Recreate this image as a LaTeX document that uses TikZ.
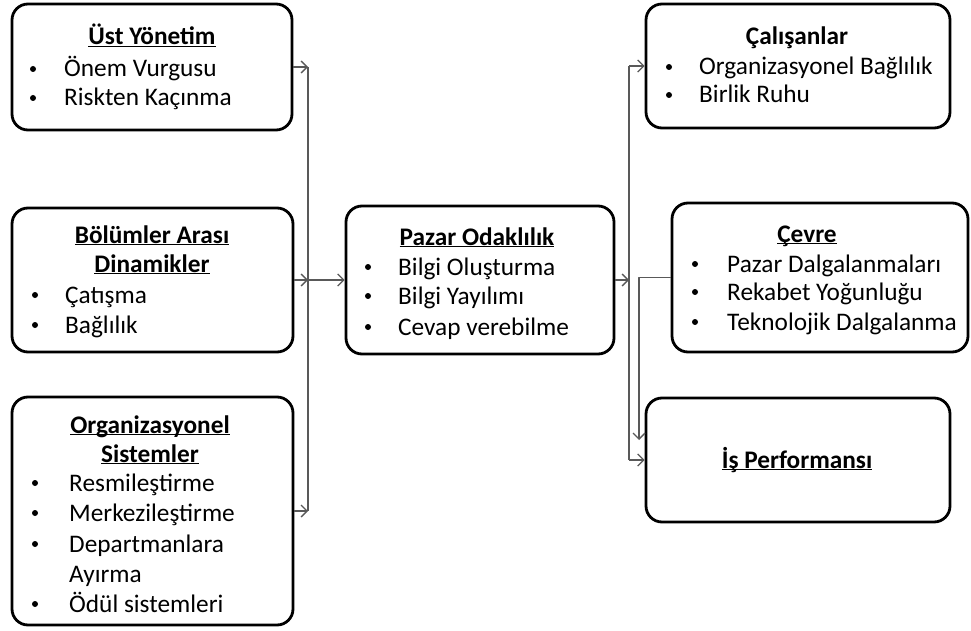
\documentclass[tikz,border=0pt]{standalone}
\usepackage{fontspec}
\setmainfont{Carlito}
\usetikzlibrary{arrows.meta}
\colorlet{line_gray}{black!65}
\newcommand{\titleul}[1]{\underline{\smash{#1}}}

\begin{document}
\begin{tikzpicture}[x=1pt,y=-1pt,line join=round,
  box/.style={draw,line width=2.8pt,rounded corners=16pt,inner sep=0pt},
  ttl/.style={anchor=base,inner sep=0pt,font=\fontsize{25.3}{30}\selectfont\bfseries},
  itm/.style={anchor=base west,inner sep=0pt,font=\fontsize{25.3}{30}\selectfont},
  dot/.style={anchor=center,circle,fill,inner sep=0pt,minimum size=6pt},
  bus/.style={draw=line_gray,line width=1.3pt},
  conn/.style={bus,-{Straight Barb[length=6pt,width=12pt]}}]

\useasboundingbox (0,0) rectangle (971,631);

% Boxes
\node[box,minimum width=280pt,minimum height=126pt] (ust) at (152,67) {};
\node[box,minimum width=281pt,minimum height=144pt] (bolum) at (152.5,280) {};
\node[box,minimum width=281pt,minimum height=228pt] (org) at (152.5,511) {};
\node[box,minimum width=268pt,minimum height=148pt] (pazar) at (480,280) {};
\node[box,minimum width=304pt,minimum height=124pt] (calis) at (798,66) {};
\node[box,minimum width=296pt,minimum height=149pt] (cevre) at (820,277.5) {};
\node[box,minimum width=304pt,minimum height=124pt] (perf) at (798,460) {};

%-----------------------------------------------
% Left column texts
\node[ttl] (ust-t) at (152,45) {\titleul{Üst Yönetim}};
\foreach \txt/\yy [count=\i] in {Önem Vurgusu/77,Riskten Kaçınma/106}
{
  \node[dot] (ust-b\i) at (33,\yy-8) {};
  \node[itm] (ust-i\i) at (64,\yy) {\txt};
}

\node[ttl] (bolum-t1) at (152,243) {\titleul{Bölümler Arası}};
\node[ttl] (bolum-t2) at (152,272) {\titleul{Dinamikler}};
\foreach \txt/\yy [count=\i] in {Çatışma/303,Bağlılık/333}
{
  \node[dot] (bolum-b\i) at (35,\yy-8) {};
  \node[itm] (bolum-i\i) at (65,\yy) {\txt};
}

\node[ttl] (org-t1) at (150,433) {\titleul{Organizasyonel}};
\node[ttl] (org-t2) at (150,462) {\titleul{Sistemler}};
\foreach \txt/\yy [count=\i] in {Resmileştirme/491,Merkezileştirme/521,Departmanlara/552,Ödül sistemleri/612}
{
  \node[dot] (org-b\i) at (35,\yy-8) {};
  \node[itm] (org-i\i) at (69,\yy) {\txt};
}
\node[itm] (org-i5) at (69,582) {Ayırma};

%-----------------------------------------------
% Middle and right texts
\node[ttl] (pazar-t) at (477,245) {\titleul{Pazar Odaklılık}};
\foreach \txt/\yy [count=\i] in {Bilgi Oluşturma/275,Bilgi Yayılımı/304,Cevap verebilme/335}
{
  \node[dot] (pazar-b\i) at (368,\yy-8) {};
  \node[itm] (pazar-i\i) at (398,\yy) {\txt};
}

\node[ttl] (calis-t) at (797,45) {Çalışanlar};
\foreach \txt/\yy [count=\i] in {Organizasyonel Bağlılık/75,Birlik Ruhu/103}
{
  \node[dot] (calis-b\i) at (669,\yy-8) {};
  \node[itm] (calis-i\i) at (699,\yy) {\txt};
}

\node[ttl] (cevre-t) at (807,242) {\titleul{Çevre}};
\foreach \txt/\yy [count=\i] in {Pazar Dalgalanmaları/272,Rekabet Yoğunluğu/300,Teknolojik Dalgalanma/330}
{
  \node[dot] (cevre-b\i) at (695,\yy-8) {};
  \node[itm] (cevre-i\i) at (727,\yy) {\txt};
}

\node[ttl] (perf-t) at (797,468) {\titleul{İş Performansı}};

%-----------------------------------------------
% Connectors
\coordinate (busL) at (308,0);
\coordinate (busR) at (629,0);
\coordinate (drop) at (639,440);

\draw[bus] (ust.east -| busL) -- (org.east -| busL);
\draw[conn] (ust.east) -- (ust.east -| busL);
\draw[conn] (bolum.east) -- (bolum.east -| busL);
\draw[conn] (org.east) -- (org.east -| busL);
\draw[conn] (bolum.east -| busL) -- (bolum.east -| pazar.west);

\draw[bus] (busR |- calis.west) -- (busR |- perf.west);
\draw[conn] (pazar.east) -- (pazar.east -| busR);
\draw[conn] (busR |- calis.west) -- (calis.west);
\draw[conn] (busR |- perf.west) -- (perf.west);
\draw[conn] (cevre.west) -| (drop);

\end{tikzpicture}
\end{document}
